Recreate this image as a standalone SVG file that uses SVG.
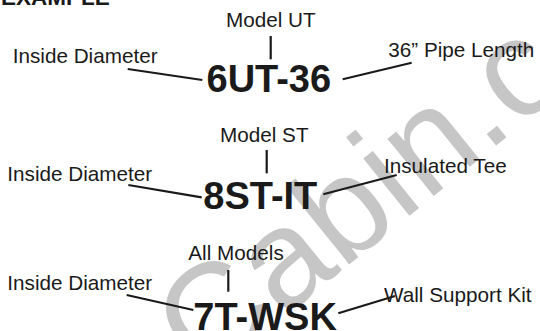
<svg xmlns="http://www.w3.org/2000/svg" width="540" height="331" viewBox="0 0 540 331">
<style>
.lbl{font-family:"Liberation Sans",Arial,sans-serif;font-size:20.7px;fill:#1a1a1a}
.code{font-family:"Liberation Sans",Arial,sans-serif;font-size:38px;font-weight:bold;fill:#1a1a1a}
.title{font-family:"Liberation Sans",Arial,sans-serif;font-size:22.5px;font-weight:bold;fill:#1a1a1a}
.wm{font-family:"Liberation Sans",Arial,sans-serif;font-size:139px;fill:#c6c6c6}
.con line{stroke:#1a1a1a;stroke-width:2.2;stroke-linecap:butt}
</style>
<rect width="540" height="331" fill="#ffffff"/>
<text class="wm" x="204" y="382" transform="rotate(-39 204 382)">Cabin.c</text>
<text class="title" x="1" y="5">EXAMPLE</text>
<g id="connectors" class="con">
<line x1="127.7" y1="69" x2="202.3" y2="80"/>
<line x1="270.7" y1="36" x2="270.7" y2="59.3"/>
<line x1="342.7" y1="79.3" x2="411.7" y2="62.7"/>
<line x1="128.3" y1="185" x2="201.7" y2="197.3"/>
<line x1="266.7" y1="150" x2="266.7" y2="173.3"/>
<line x1="323.3" y1="194.3" x2="396.7" y2="175"/>
<line x1="126.7" y1="295" x2="193.3" y2="310"/>
<line x1="228.3" y1="270" x2="228.3" y2="291.7"/>
<line x1="338.3" y1="313.3" x2="395" y2="296"/>
</g>
<g id="code1"><text class="code" x="206.5" y="92">6UT-36</text></g>
<g id="model1"><text class="lbl" x="226" y="26.7">Model UT</text></g>
<g id="id1"><text class="lbl" x="12.7" y="63.3">Inside Diameter</text></g>
<g id="len1"><text class="lbl" x="388.3" y="57.3">36” Pipe Length</text></g>
<g id="code2"><text class="code" x="203.3" y="209">8ST-IT</text></g>
<g id="model2"><text class="lbl" x="220" y="142">Model ST</text></g>
<g id="id2"><text class="lbl" x="7.3" y="181">Inside Diameter</text></g>
<g id="tee2"><text class="lbl" x="384" y="173.3">Insulated Tee</text></g>
<g id="code3"><text class="code" x="193.3" y="329.5">7T-WSK</text></g>
<g id="model3"><text class="lbl" x="188.3" y="260">All Models</text></g>
<g id="id3"><text class="lbl" x="7.3" y="290">Inside Diameter</text></g>
<g id="kit3"><text class="lbl" x="384" y="301.5">Wall Support Kit</text></g>
</svg>
